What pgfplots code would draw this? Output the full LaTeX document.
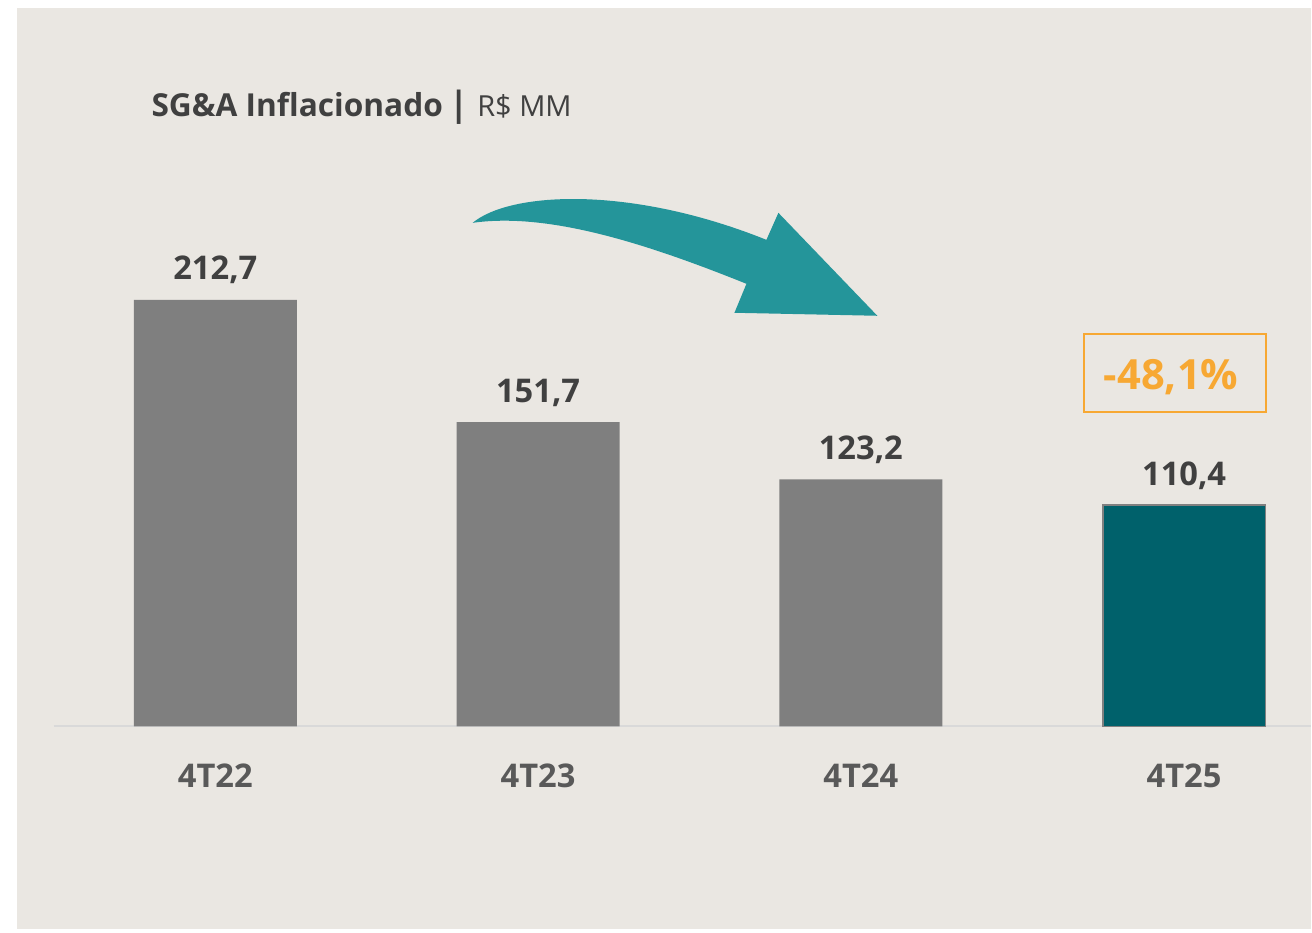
\documentclass[border=0pt]{standalone}
\usepackage{pgfplots}
\pgfplotsset{compat=1.18}
\usepackage{fontspec}
\setmainfont{Open Sans}

\definecolor{panel}{HTML}{EAE7E2}
\definecolor{bargray}{HTML}{7F7F7F}
\definecolor{tealbar}{HTML}{00616B}
\definecolor{arrowteal}{HTML}{24959A}
\definecolor{accent}{HTML}{F7A833}
\definecolor{darktext}{HTML}{404040}
\definecolor{cattext}{HTML}{595959}
\definecolor{baseline}{HTML}{D9D9D9}

\begin{document}
\begin{tikzpicture}
% panel, in pixel units of the reference (y down)
\begin{scope}[x=0.3pt,y=-0.3pt]
  \fill[white] (0,0) rectangle (1312,933);
  \fill[panel] (17,8) rectangle (1312,930);
\end{scope}

\begin{axis}[
    at={(16.2pt,-218.1pt)}, anchor=south west,
    scale only axis, width=377.4pt, height=215.7pt,
    xmin=54, xmax=1312, ymin=0, ymax=358.16,
    axis x line=bottom, axis y line=none,
    x axis line style={draw=baseline, line width=0.6pt, -},
    xtick={215.5,538.5,861.5,1185},
    xticklabels={4T22,4T23,4T24,4T25},
    major tick length=0pt,
    xticklabel style={anchor=base, yshift=-18.3pt, text=cattext,
        font=\bfseries\fontsize{9.8}{12}\selectfont},
    ybar, bar width=48.9pt, bar shift=0pt,
    nodes near coords={\pgfmathprintnumber[fixed,fixed zerofill,precision=1,use comma,assume math mode=true]{\pgfplotspointmeta}},
    every node near coord/.append style={anchor=base, yshift=6pt, text=darktext,
        font=\bfseries\fontsize{9.8}{12}\selectfont},
    clip=false]
    \addplot[fill=bargray, draw=none] coordinates {
        (215.5,212.7)
        (538.5,151.7)
        (861.5,123.2)
    };
    \addplot[fill=tealbar, draw=gray, line width=0.5pt] coordinates {
        (1185,110.4)
    };
\end{axis}

% annotations, pixel units again
\begin{scope}[x=0.3pt,y=-0.3pt]
  \fill[arrowteal] (473,223) .. controls (510,192) and (630,185) .. (767,240)
      -- (779,213) -- (878,316) -- (735,313) -- (747,284)
      .. controls (650,245) and (550,212) .. (473,223) -- cycle;
  \draw[accent, line width=0.6pt] (1085,334) rectangle (1267,412);
  \node[anchor=base, inner sep=0pt, text=accent,
        font=\bfseries\fontsize{12.5}{15}\selectfont] at (1172,390) {-48,1\%};
  \node[anchor=base west, inner sep=0pt, text=darktext,
        font=\bfseries\fontsize{9.5}{12}\selectfont] at (151,117) {SG\&A Inflacionado};
  \node[anchor=base, inner sep=0pt, text=darktext,
        font=\bfseries\fontsize{10.5}{12}\selectfont] at (459,117) {|};
  \node[anchor=base west, inner sep=0pt, text=darktext,
        font=\fontsize{8.7}{11}\selectfont] at (477,117) {R\$ MM};
\end{scope}
\end{tikzpicture}
\end{document}
